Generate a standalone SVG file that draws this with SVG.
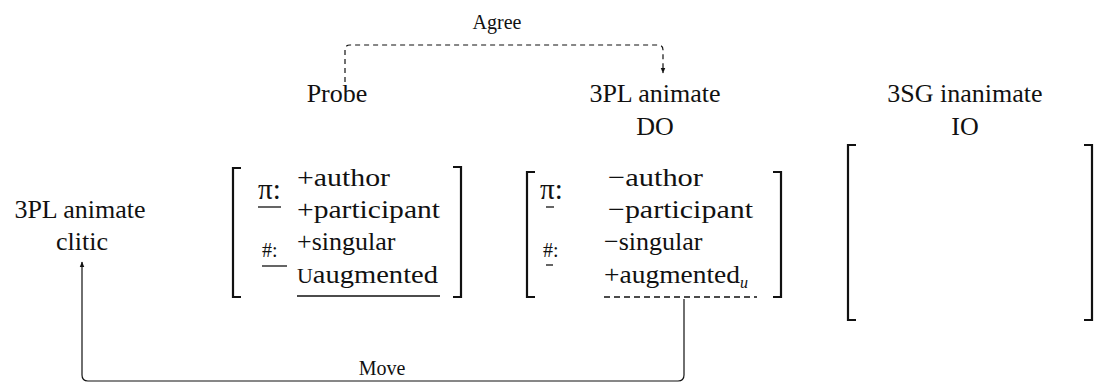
<svg xmlns="http://www.w3.org/2000/svg" width="1097" height="383" viewBox="0 0 1097 383" font-family="'Liberation Serif', 'DejaVu Serif', serif">
<style>
text{font-family:"Liberation Serif","DejaVu Serif",serif;fill:#111;}
.lbl{font-size:26px;text-anchor:middle;}
.ft{font-size:26px;}
.pi{font-size:29px;}
.hs{font-size:20px;}
.sm{font-size:20px;text-anchor:middle;}
.br{fill:none;stroke:#111;stroke-width:2.2;}
.ul{stroke:#111;stroke-width:1.3;}
.conn{fill:none;stroke:#111;stroke-width:1.2;}
</style>
<defs>
<marker id="ah" viewBox="0 0 10 10" refX="9" refY="5" markerWidth="6" markerHeight="6" orient="auto" markerUnits="userSpaceOnUse">
<path d="M0,1 L10,5 L0,9 z" fill="#111"/>
</marker>
</defs>
<g id="connectors">
<path class="conn" d="M345 82 L345 50 Q345 45 350 45 L658 45 Q663 45 663 50 L663 73" stroke-dasharray="5,4" marker-end="url(#ah)"/>
<text class="sm" x="497" y="29">Agree</text>
<path class="conn" d="M684 299 L684 375 Q684 381 678 381 L88 381 Q82 381 82 375 L82 262" marker-end="url(#ah)"/>
<text class="sm" x="382" y="375">Move</text>
</g>
<g id="clitic">
<text class="lbl" x="80" y="218">3PL animate</text>
<text class="lbl" x="82" y="250">clitic</text>
</g>
<g id="probe">
<text class="lbl" x="337" y="102">Probe</text>
<path class="br" d="M241 168 L233 168 L233 297 L241 297"/>
<path class="br" d="M453 167 L461 167 L461 297 L453 297"/>
<text class="pi" x="258" y="199">π:</text>
<line class="ul" x1="258" y1="207" x2="281" y2="207"/>
<text class="hs" x="262" y="257">#:</text>
<line class="ul" x1="262" y1="266" x2="287" y2="266"/>
<text class="ft" x="297" y="186" textLength="93" lengthAdjust="spacingAndGlyphs">+author</text>
<text class="ft" x="297" y="218" textLength="143" lengthAdjust="spacingAndGlyphs">+participant</text>
<text class="ft" x="297" y="250">+singular</text>
<text class="ft" x="297" y="283" textLength="141" lengthAdjust="spacingAndGlyphs"><tspan font-size="20">U</tspan>augmented</text>
<line class="ul" x1="297" y1="296" x2="440" y2="296"/>
</g>
<g id="do">
<text class="lbl" x="655" y="102">3PL animate</text>
<text class="lbl" x="655" y="135">DO</text>
<path class="br" d="M535 172 L527 172 L527 297 L535 297"/>
<path class="br" d="M773 172 L781 172 L781 297 L773 297"/>
<text class="pi" x="540" y="199">π:</text>
<line class="ul" x1="546" y1="207" x2="554" y2="207"/>
<text class="hs" x="543" y="257">#:</text>
<line class="ul" x1="546" y1="265" x2="553" y2="265"/>
<text class="ft" x="608" y="186" textLength="95" lengthAdjust="spacingAndGlyphs">−author</text>
<text class="ft" x="608" y="218" textLength="145" lengthAdjust="spacingAndGlyphs">−participant</text>
<text class="ft" x="604" y="250">−singular</text>
<text class="ft" x="604" y="283"><tspan textLength="136" lengthAdjust="spacingAndGlyphs">+augmented</tspan><tspan font-size="16" font-style="italic" dy="5">u</tspan></text>
<line class="ul" x1="604" y1="297" x2="757" y2="297" stroke-dasharray="6,4"/>
</g>
<g id="io">
<text class="lbl" x="965" y="102">3SG inanimate</text>
<text class="lbl" x="965" y="135">IO</text>
<path class="br" d="M856 145 L848 145 L848 320 L856 320"/>
<path class="br" d="M1084 145 L1092 145 L1092 320 L1084 320"/>
</g>
</svg>
